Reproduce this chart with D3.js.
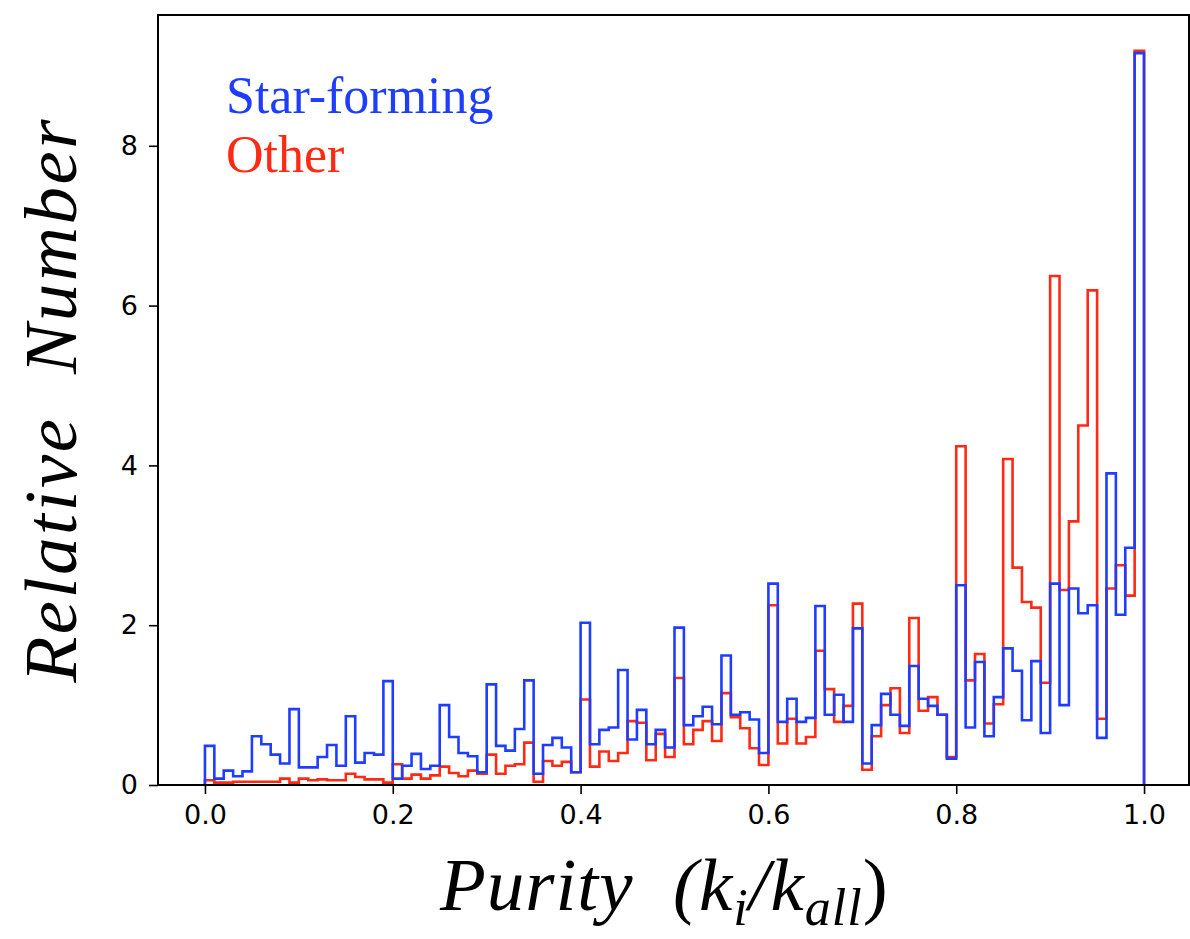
<!DOCTYPE html>
<html>
<head>
<meta charset="utf-8">
<script src="https://cdn.jsdelivr.net/npm/d3@7"></script>
<style>
    body { margin: 0; background: #ffffff; }
    .tick text { font-family: "DejaVu Sans", sans-serif; font-size: 27px; fill: #000; }
    .tick line { stroke: #000; stroke-width: 1.6px; }
</style>
</head>
<body>
<script>
//wrap everything in a self-executing anonymous function to move to local scope
(function(){

//bin starts of the histogram (100 bins of width 0.01 between 0 and 1)
var binWidth = 0.01;
var binStarts = d3.range(100).map(function(i){ return i * binWidth; });

//relative number per bin, star-forming galaxies (blue)
var starForming = [
    0.49, 0.08, 0.18, 0.11, 0.17, 0.61, 0.51, 0.38, 0.27, 0.95,
    0.22, 0.22, 0.35, 0.50, 0.24, 0.86, 0.28, 0.40, 0.38, 1.30,
    0.08, 0.24, 0.39, 0.20, 0.24, 1.00, 0.60, 0.40, 0.36, 0.16,
    1.26, 0.49, 0.43, 0.70, 1.31, 0.14, 0.50, 0.59, 0.47, 0.16,
    2.03, 0.51, 0.69, 0.72, 1.44, 0.57, 0.94, 0.51, 0.69, 0.47,
    1.97, 0.75, 0.86, 0.98, 0.76, 1.62, 0.88, 0.91, 0.82, 0.40,
    2.52, 0.79, 1.08, 0.79, 0.84, 2.24, 0.88, 1.13, 0.79, 1.96,
    0.27, 0.75, 1.14, 0.88, 0.74, 1.49, 1.08, 0.99, 0.88, 0.33,
    2.50, 0.72, 1.54, 0.61, 1.10, 1.71, 1.43, 0.81, 1.55, 0.65,
    2.52, 1.00, 2.46, 2.15, 2.25, 0.59, 3.90, 2.13, 2.97, 9.16
];

//relative number per bin, other galaxies (red)
var other = [
    0.06, 0.03, 0.03, 0.04, 0.04, 0.04, 0.04, 0.04, 0.08, 0.03,
    0.08, 0.06, 0.07, 0.06, 0.06, 0.14, 0.10, 0.07, 0.07, 0.03,
    0.26, 0.08, 0.13, 0.08, 0.12, 0.23, 0.15, 0.11, 0.18, 0.14,
    0.38, 0.14, 0.24, 0.26, 0.53, 0.04, 0.30, 0.24, 0.29, 0.16,
    1.07, 0.23, 0.42, 0.30, 0.40, 0.80, 0.78, 0.31, 0.64, 0.35,
    1.34, 0.51, 0.69, 0.80, 0.55, 1.15, 0.85, 0.71, 0.46, 0.25,
    2.25, 0.52, 0.83, 0.52, 0.60, 1.68, 1.20, 0.79, 0.99, 2.27,
    0.19, 0.61, 1.00, 1.21, 0.65, 2.09, 0.93, 1.10, 0.88, 0.35,
    4.24, 1.31, 1.64, 0.77, 1.01, 4.08, 2.72, 2.29, 2.22, 1.28,
    6.37, 2.44, 3.30, 4.50, 6.19, 0.83, 2.46, 2.75, 2.37, 9.19
];

//tick labels
var xTicks = [0.0, 0.2, 0.4, 0.6, 0.8, 1.0];
var yTicks = [0, 2, 4, 6, 8];

//series names and colours
var seriesNames = ["Star-forming", "Other"];
var blue = "#1f3dff",
    red = "#ff2a14";

//begin script when window loads
window.onload = drawChart();

function drawChart(){

    //frame dimensions
    var width = 1190,
        height = 939;

    //plot area
    var left = 158,
        right = 1189,
        top = 15,
        bottom = 785;

    var svg = d3.select("body")
        .append("svg")
        .attr("width", width)
        .attr("height", height);

    svg.append("rect")
        .attr("width", width)
        .attr("height", height)
        .attr("fill", "#ffffff");

    //scales, matplotlib style 5% margin on x
    var x = d3.scaleLinear()
        .domain([-0.05, 1.05])
        .range([left, 1191]);

    var y = d3.scaleLinear()
        .domain([0, 9.637])
        .range([bottom, top]);

    //step outlines: red first, blue drawn over it
    drawStep(svg, other, x, y, red);
    drawStep(svg, starForming, x, y, blue);

    //axes
    var xAxis = svg.append("g")
        .attr("transform", "translate(0," + bottom + ")")
        .call(d3.axisBottom(x)
            .tickValues(xTicks)
            .tickFormat(d3.format(".1f"))
            .tickSize(9)
            .tickPadding(11));
    xAxis.select(".domain").remove();

    var yAxis = svg.append("g")
        .attr("transform", "translate(" + left + ",0)")
        .call(d3.axisLeft(y)
            .tickValues(yTicks)
            .tickFormat(d3.format("d"))
            .tickSize(9)
            .tickPadding(11));
    yAxis.select(".domain").remove();

    //frame
    svg.append("rect")
        .attr("x", left)
        .attr("y", top)
        .attr("width", right - left)
        .attr("height", bottom - top)
        .attr("fill", "none")
        .attr("stroke", "#000")
        .attr("stroke-width", 2);

    //legend texts
    svg.append("text")
        .attr("x", 226)
        .attr("y", 113)
        .style("font-family", "'Liberation Serif', serif")
        .style("font-size", "52px")
        .attr("fill", blue)
        .text(seriesNames[0]);

    svg.append("text")
        .attr("x", 226)
        .attr("y", 172)
        .style("font-family", "'Liberation Serif', serif")
        .style("font-size", "52px")
        .attr("fill", red)
        .text(seriesNames[1]);

    //y axis title
    svg.append("text")
        .attr("transform", "translate(76,401) rotate(-90)")
        .attr("text-anchor", "middle")
        .attr("textLength", 563)
        .attr("lengthAdjust", "spacing")
        .style("font-family", "'Liberation Serif', serif")
        .style("font-style", "italic")
        .style("font-size", "75px")
        .text("Relative\u00a0\u00a0Number");

    //x axis title with subscripts
    var xTitle = svg.append("text")
        .attr("x", 440)
        .attr("y", 910)
        .style("font-family", "'Liberation Serif', serif")
        .style("font-style", "italic")
        .style("font-size", "75px")
        .style("letter-spacing", "1px");
    xTitle.append("tspan").text("Purity\u00a0\u00a0(k");
    xTitle.append("tspan").attr("dy", 15).style("font-size", "52px").text("i");
    xTitle.append("tspan").attr("dy", -15).text("/k");
    xTitle.append("tspan").attr("dy", 15).style("font-size", "52px").text("all");
    xTitle.append("tspan").attr("dy", -15).style("font-style", "normal").text(")");
};

//draw one histogram as a step outline (matplotlib histtype='step')
function drawStep(svg, values, x, y, color){
    var points = [[binStarts[0], 0]];
    values.forEach(function(v, i){
        points.push([binStarts[i], v]);
        points.push([binStarts[i] + binWidth, v]);
    });
    points.push([binStarts[values.length - 1] + binWidth, 0]);

    var line = d3.line()
        .x(function(d){ return x(d[0]); })
        .y(function(d){ return y(d[1]); });

    svg.append("path")
        .datum(points)
        .attr("d", line)
        .attr("fill", "none")
        .attr("stroke", color)
        .attr("stroke-width", 2.6)
        .attr("stroke-linejoin", "miter");
};

})();
</script>
</body>
</html>
